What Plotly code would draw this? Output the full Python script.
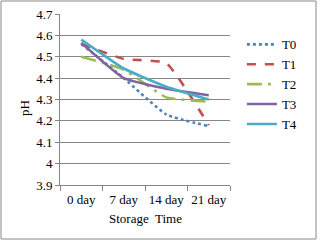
import plotly.graph_objects as go

categories = ["0 day", "7 day", "14 day", "21 day"]
series_names = ["T0", "T1", "T2", "T3", "T4"]
T0 = [4.56, 4.40, 4.23, 4.175]
T1 = [4.56, 4.49, 4.47, 4.18]
T2 = [4.50, 4.44, 4.31, 4.29]
T3 = [4.565, 4.40, 4.35, 4.32]
T4 = [4.58, 4.445, 4.36, 4.30]
y_ticks = [3.9, 4.0, 4.1, 4.2, 4.3, 4.4, 4.5, 4.6, 4.7]
y_tick_labels = ["3.9", "4", "4.1", "4.2", "4.3", "4.4", "4.5", "4.6", "4.7"]
x_title = "Storage  Time"
y_title = "pH"

colors = ["#4F81BD", "#C0504D", "#9BBB59", "#8064A2", "#4BACC6"]
dashes = ["dot", "dash", "longdashdot", "solid", "solid"]

fig = go.Figure()
for name, vals, c, d in zip(series_names, [T0, T1, T2, T3, T4], colors, dashes):
    fig.add_trace(go.Scatter(
        x=categories, y=vals, name=name, mode="lines",
        line=dict(color=c, width=2.6, dash=d, shape="spline", smoothing=0.4),
    ))

font = dict(family="Liberation Serif", size=13, color="#000000")
fig.update_layout(
    width=320, height=244,
    margin=dict(l=60, r=90, t=14, b=59, autoexpand=False),
    paper_bgcolor="white", plot_bgcolor="white",
    font=font,
    showlegend=True,
    legend=dict(x=1.07, y=0.91, xanchor="left", yanchor="top",
                font=dict(family="Liberation Serif", size=13, color="#000"),
                bgcolor="rgba(0,0,0,0)", tracegroupgap=0, itemwidth=30),
    xaxis=dict(
        type="category", range=[-0.5, 3.5], automargin=False, tickangle=0,
        showline=True, linecolor="#868686", linewidth=1,
        ticks="outside", tickson="boundaries", ticklen=5, tickcolor="#868686",
        ticklabelstandoff=2, showgrid=False, tickfont=font,
    ),
    yaxis=dict(
        range=[3.9, 4.7], tickvals=y_ticks, ticktext=y_tick_labels, automargin=False,
        showline=True, linecolor="#868686", linewidth=1,
        ticks="outside", ticklen=4, tickcolor="#868686",
        showgrid=True, gridcolor="#868686", gridwidth=1,
        zeroline=False, tickfont=font,
    ),
    annotations=[
        dict(text=x_title, xref="paper", yref="paper", x=0.5, y=(185 - 218) / 171,
             xanchor="center", yanchor="middle", showarrow=False, font=font),
        dict(text=y_title, xref="paper", yref="paper", x=(24 - 60) / 170, y=(185 - 108) / 171,
             xanchor="center", yanchor="middle", showarrow=False, textangle=-90, font=font),
    ],
    shapes=[dict(type="rect", xref="paper", yref="paper",
                 x0=(1 - 60) / 170, x1=(316 - 60) / 170,
                 y0=(185 - 239) / 171, y1=(185 - 1) / 171,
                 line=dict(color="#888888", width=1), fillcolor="rgba(0,0,0,0)")],
)

fig.write_html("out.html", config={"displayModeBar": False},
               post_script="document.body.style.margin='0';")
